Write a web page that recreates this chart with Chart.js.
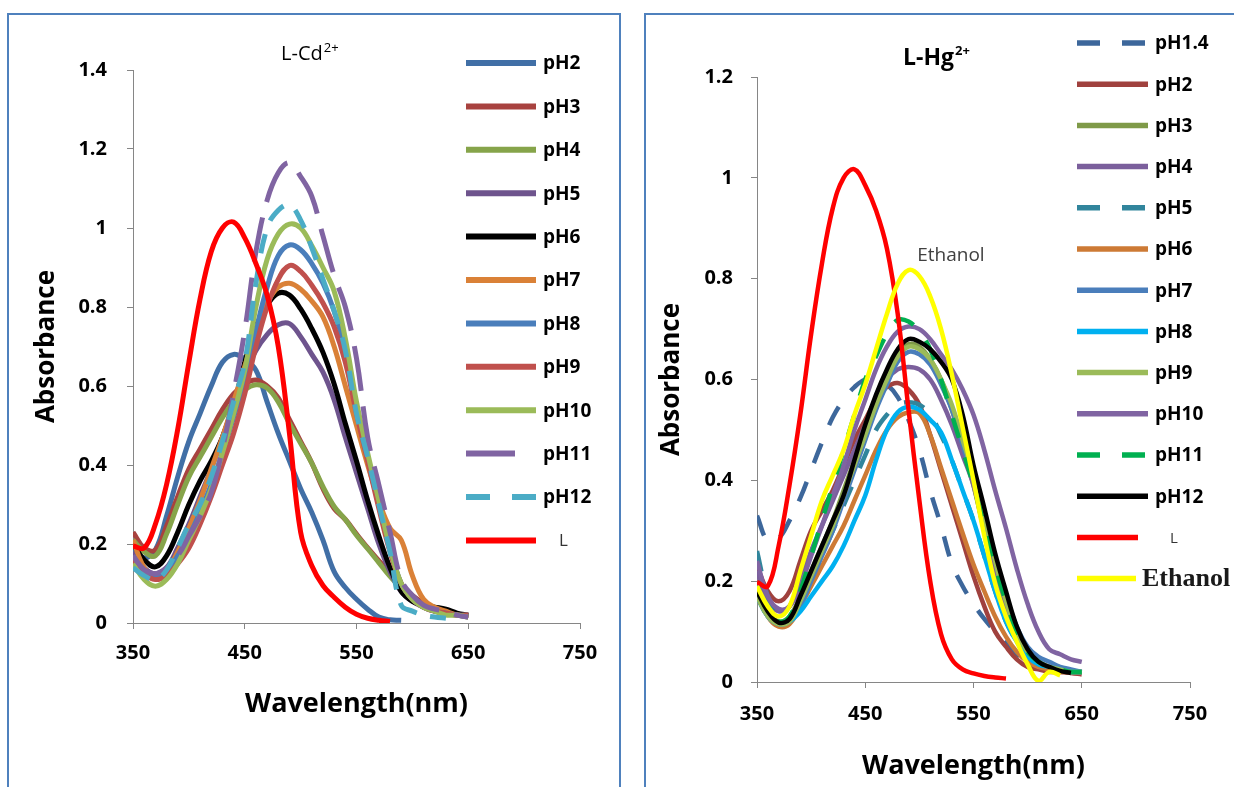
<!DOCTYPE html>
<html>
<head>
<meta charset="utf-8">
<script src="https://cdn.jsdelivr.net/npm/chart.js@4.4.0/dist/chart.umd.min.js"></script>
<style>
  html, body { margin: 0; padding: 0; background: #fff; }
  body { position: relative; width: 1234px; height: 787px; overflow: hidden; }
  .panel { position: absolute; border: 2px solid #4f81bd; box-sizing: border-box; }
  #cdPanel { left: 7px; top: 13px; width: 614px; height: 820px; }
  #hgPanel { left: 644px; top: 13px; width: 640px; height: 820px; }
  canvas { position: absolute; top: 0; }
  #cdChart { left: 0; }
  #hgChart { left: 630px; }
</style>
</head>
<body>
<div class="panel" id="cdPanel"></div>
<div class="panel" id="hgPanel"></div>
<canvas id="cdChart" width="630" height="787"></canvas>
<canvas id="hgChart" width="604" height="787"></canvas>
<script>
// wavelength grid (nm) shared by every spectrum
const wavelengths = [350,360,370,380,390,400,410,420,430,440,450,460,470,480,490,500,510,520,530,540,550,560,570,580,590,600,610,620,630,640,650];
const xTicks = [350, 450, 550, 650, 750];

// ---- L-Cd2+ absorbance ----
const cdLabels = ['pH2','pH3','pH4','pH5','pH6','pH7','pH8','pH9','pH10','pH11','pH12','L'];
const cdPH2  = [0.19,0.165,0.185,0.27,0.37,0.46,0.53,0.6,0.66,0.68,0.668,0.64,0.56,0.48,0.41,0.34,0.28,0.21,0.13,0.09,0.06,0.035,0.015,0.008,0.007,null,null,null,null,null,null];
const cdPH3  = [0.23,0.19,0.185,0.245,0.32,0.39,0.44,0.49,0.54,0.58,0.605,0.615,0.6,0.57,0.515,0.46,0.405,0.34,0.29,0.262,0.225,0.19,0.158,0.127,0.095,0.07,0.05,0.035,0.025,0.02,0.018];
const cdPH4  = [0.21,0.18,0.17,0.225,0.3,0.37,0.42,0.47,0.52,0.56,0.59,0.603,0.595,0.56,0.505,0.455,0.405,0.345,0.295,0.262,0.222,0.188,0.153,0.118,0.088,0.063,0.044,0.03,0.024,0.02,0.015];
const cdPH5  = [0.18,0.14,0.125,0.14,0.19,0.25,0.32,0.39,0.47,0.55,0.63,0.69,0.73,0.755,0.758,0.725,0.68,0.635,0.565,0.47,0.38,0.29,0.2,0.13,0.08,0.055,0.04,0.03,0.025,0.02,0.015];
const cdPH6  = [0.2,0.16,0.142,0.17,0.23,0.3,0.36,0.41,0.47,0.55,0.66,0.75,0.805,0.835,0.83,0.795,0.745,0.685,0.605,0.505,0.41,0.31,0.22,0.14,0.08,0.055,0.045,0.04,0.035,0.025,0.02];
const cdPH7  = [0.21,0.14,0.115,0.13,0.18,0.24,0.31,0.39,0.47,0.56,0.65,0.74,0.81,0.85,0.86,0.845,0.815,0.775,0.7,0.6,0.5,0.4,0.31,0.24,0.21,0.12,0.06,0.04,0.03,0.02,0.02];
const cdPH8  = [0.17,0.13,0.115,0.13,0.17,0.22,0.28,0.35,0.43,0.52,0.62,0.74,0.85,0.93,0.957,0.945,0.91,0.86,0.79,0.69,0.55,0.42,0.3,0.19,0.1,0.06,0.04,0.03,0.025,0.02,0.02];
const cdPH9  = [0.16,0.125,0.11,0.12,0.15,0.19,0.25,0.32,0.4,0.48,0.58,0.7,0.8,0.87,0.905,0.89,0.855,0.81,0.75,0.66,0.53,0.41,0.29,0.18,0.1,0.06,0.04,0.03,0.025,0.02,0.02];
const cdPH10 = [0.15,0.11,0.093,0.11,0.15,0.21,0.27,0.34,0.43,0.53,0.64,0.8,0.92,0.985,1.01,1.0,0.955,0.9,0.84,0.72,0.56,0.43,0.31,0.19,0.1,0.06,0.04,0.03,0.02,0.02,0.015];
const cdPH11 = [0.17,0.135,0.125,0.14,0.17,0.22,0.27,0.33,0.44,0.58,0.74,0.94,1.07,1.14,1.165,1.13,1.08,0.98,0.88,0.8,0.67,0.47,0.35,0.23,0.11,0.07,0.045,0.035,0.03,0.02,0.015];
const cdPH12 = [0.14,0.12,0.11,0.134,0.19,0.25,0.3,0.37,0.46,0.56,0.66,0.86,1.0,1.045,1.058,1.02,0.95,0.87,0.79,0.69,0.53,0.42,0.3,0.18,0.045,0.03,0.02,0.015,0.012,null,null];
const cdL    = [0.195,0.19,0.25,0.35,0.49,0.66,0.82,0.94,1.0,1.015,0.975,0.91,0.83,0.7,0.48,0.23,0.145,0.095,0.065,0.04,0.022,0.012,0.007,0.004,null,null,null,null,null,null,null];
const cdSeries = [cdPH2, cdPH3, cdPH4, cdPH5, cdPH6, cdPH7, cdPH8, cdPH9, cdPH10, cdPH11, cdPH12, cdL];
const cdColors = ['#416fa6','#a8423f','#86a44a','#6e548d','#000000','#da8137','#4a7ebb','#c0504d','#9bbb59','#8064a2','#4bacc6','#ff0000'];

// ---- L-Hg2+ absorbance ----
const hgLabels = ['pH1.4','pH2','pH3','pH4','pH5','pH6','pH7','pH8','pH9','pH10','pH11','pH12','L','Ethanol'];
const hgPH14 = [0.33,0.28,0.285,0.32,0.365,0.42,0.475,0.525,0.56,0.585,0.6,0.6,0.59,0.565,0.52,0.46,0.38,0.31,0.235,0.19,0.155,0.125,0.1,0.076,0.056,0.04,0.03,0.02,null,null,null];
const hgPH2  = [0.23,0.18,0.16,0.18,0.24,0.3,0.34,0.38,0.43,0.48,0.52,0.56,0.585,0.593,0.58,0.55,0.49,0.42,0.35,0.28,0.21,0.15,0.1,0.07,0.045,0.03,0.025,0.02,0.02,0.018,0.015];
const hgPH3  = [0.18,0.14,0.12,0.13,0.17,0.22,0.27,0.32,0.38,0.44,0.5,0.56,0.61,0.65,0.67,0.665,0.64,0.6,0.54,0.47,0.39,0.3,0.22,0.15,0.09,0.055,0.035,0.028,0.022,0.02,0.02];
const hgPH4  = [0.22,0.16,0.14,0.15,0.2,0.26,0.31,0.36,0.41,0.46,0.51,0.56,0.6,0.62,0.625,0.62,0.6,0.56,0.51,0.45,0.39,0.3,0.22,0.15,0.1,0.06,0.04,0.03,0.025,0.02,0.02];
const hgPH5  = [0.26,0.17,0.13,0.13,0.16,0.2,0.25,0.3,0.35,0.4,0.45,0.5,0.53,0.55,0.555,0.55,0.53,0.49,0.44,0.38,0.32,0.25,0.18,0.12,0.08,0.05,0.035,0.03,0.025,0.02,0.02];
const hgPH6  = [0.18,0.13,0.11,0.115,0.15,0.19,0.23,0.27,0.31,0.36,0.41,0.46,0.5,0.525,0.535,0.533,0.49,0.425,0.36,0.295,0.233,0.18,0.13,0.09,0.06,0.04,0.03,0.025,0.02,0.02,0.02];
const hgPH7  = [0.17,0.13,0.115,0.12,0.15,0.2,0.25,0.3,0.36,0.42,0.48,0.54,0.59,0.635,0.655,0.65,0.63,0.59,0.54,0.47,0.4,0.32,0.24,0.17,0.11,0.07,0.05,0.04,0.03,0.025,0.02];
const hgPH8  = [0.17,0.13,0.115,0.12,0.14,0.17,0.2,0.23,0.27,0.32,0.37,0.44,0.5,0.535,0.546,0.54,0.52,0.495,0.44,0.38,0.32,0.25,0.18,0.12,0.08,0.05,0.035,0.03,0.025,0.02,0.02];
const hgPH9  = [0.17,0.13,0.115,0.12,0.16,0.21,0.26,0.31,0.37,0.43,0.49,0.55,0.6,0.645,0.665,0.66,0.64,0.6,0.55,0.48,0.41,0.33,0.24,0.16,0.1,0.06,0.04,0.03,0.025,0.02,0.02];
const hgPH10 = [0.24,0.17,0.145,0.15,0.19,0.25,0.31,0.37,0.43,0.5,0.56,0.62,0.665,0.695,0.705,0.7,0.68,0.65,0.62,0.58,0.53,0.46,0.38,0.305,0.225,0.155,0.1,0.065,0.055,0.045,0.04];
const hgPH11 = [0.19,0.14,0.12,0.13,0.18,0.25,0.32,0.39,0.46,0.53,0.6,0.646,0.69,0.718,0.715,0.695,0.66,0.6,0.53,0.46,0.39,0.31,0.23,0.16,0.1,0.06,0.04,0.03,0.025,0.02,0.02];
const hgPH12 = [0.18,0.14,0.118,0.125,0.17,0.22,0.27,0.32,0.37,0.44,0.51,0.57,0.62,0.66,0.68,0.675,0.66,0.635,0.6,0.53,0.43,0.345,0.255,0.18,0.11,0.065,0.04,0.03,0.022,0.018,null];
const hgL    = [0.198,0.19,0.27,0.39,0.53,0.69,0.83,0.94,1.0,1.017,0.985,0.935,0.86,0.73,0.54,0.36,0.2,0.095,0.045,0.025,0.017,0.012,0.009,0.007,null,null,null,null,null,null,null];
const hgEthanol = [0.19,0.15,0.13,0.15,0.22,0.29,0.36,0.41,0.46,0.53,0.59,0.66,0.73,0.79,0.817,0.805,0.765,0.7,0.61,0.505,0.4,0.29,0.195,0.13,0.08,0.035,0.002,0.02,0.013,null,null];
const hgSeries = [hgPH14, hgPH2, hgPH3, hgPH4, hgPH5, hgPH6, hgPH7, hgPH8, hgPH9, hgPH10, hgPH11, hgPH12, hgL, hgEthanol];
const hgColors = ['#3d679b','#a0413e','#7f9a48','#7b5f9c','#31859c','#cd7a35','#4a7ebb','#00b0f0','#9bbb59','#8064a2','#00b050','#000000','#ff0000','#ffff00'];

const FONT = '"Open Sans", Lato, sans-serif';

function points(values) {
  const pts = [];
  values.forEach((v, i) => { if (v !== null) pts.push({ x: wavelengths[i], y: v }); });
  return pts;
}

function buildDatasets(labels, series, colors, width, extra) {
  return labels.map((label, i) => Object.assign({
    label,
    data: points(series[i]),
    borderColor: colors[i],
    backgroundColor: colors[i],
    borderWidth: width,
    borderJoinStyle: 'round',
    pointRadius: 0,
    fill: false,
    tension: 0.4,
    order: labels.length - i   // later series sit on top
  }, extra[label] || {}));
}

// legend, panel title and free text drawn on top of the plot
const chartDecor = {
  id: 'chartDecor',
  afterDraw(chart, args, o) {
    const ctx = chart.ctx;
    ctx.save();
    chart.data.datasets.forEach((ds, i) => {
      const y = o.legendTop + i * o.legendStep;
      ctx.beginPath();
      ctx.strokeStyle = ds.borderColor;
      ctx.lineWidth = o.legendWidth;
      ctx.lineCap = 'butt';
      ctx.setLineDash(ds.legendDash || []);
      ctx.moveTo(o.legendX, y);
      ctx.lineTo(o.legendX + (ds.legendLen || o.legendLen), y);
      ctx.stroke();
      ctx.setLineDash([]);
      ctx.font = ds.legendFont || ('bold 19px ' + FONT);
      ctx.fillStyle = ds.legendColor || '#000';
      ctx.textBaseline = 'middle';
      ctx.textAlign = 'left';
      ctx.fillText(ds.label, ds.legendTextX || o.legendTextX, y + 1);
    });
    // title with superscript charge
    const t = o.title;
    ctx.fillStyle = '#000';
    ctx.textBaseline = 'alphabetic';
    ctx.font = t.font;
    ctx.fillText(t.text, t.x, t.y);
    const w = ctx.measureText(t.text).width;
    ctx.font = t.supFont;
    ctx.fillText(t.sup, t.x + w + 1, t.y - t.supRise);
    // free text note placed in data units
    if (o.note) {
      const xs = chart.scales.x, ys = chart.scales.y;
      ctx.font = o.note.font;
      ctx.fillStyle = '#404040';
      ctx.textBaseline = 'middle';
      ctx.fillText(o.note.text, xs.getPixelForValue(o.note.x), ys.getPixelForValue(o.note.y));
    }
    ctx.restore();
  }
};

function axisOptions(cfg) {
  const grid = { display: true, drawOnChartArea: false, drawTicks: true, tickLength: 6, color: '#868686', lineWidth: 1 };
  const border = { display: true, color: '#868686', width: 1 };
  return {
    x: {
      type: 'linear', min: 350, max: 750,
      afterBuildTicks: s => { s.ticks = xTicks.map(v => ({ value: v })); },
      afterFit: s => { s.height = cfg.xHeight; },
      grid, border,
      ticks: { color: '#000', font: { family: FONT, size: 20, weight: 'bold' }, padding: cfg.xTickPad, maxRotation: 0 },
      title: { display: true, text: 'Wavelength(nm)', color: '#000', font: { family: FONT, size: 27, weight: 'bold' }, padding: { top: 0, bottom: cfg.xTitlePad } }
    },
    y: {
      type: 'linear', min: 0, max: cfg.yMax,
      ticks: { stepSize: 0.2, color: '#000', font: { family: FONT, size: 20, weight: 'bold' }, padding: cfg.yTickPad,
               callback: v => String(Math.round(v * 10) / 10) },
      afterFit: s => { s.width = cfg.yWidth; },
      grid, border,
      title: { display: true, text: 'Absorbance', color: '#000', font: { family: FONT, size: 26, weight: 'bold' }, padding: { top: cfg.yTitlePad, bottom: 0 } }
    }
  };
}

new Chart(document.getElementById('cdChart'), {
  type: 'line',
  data: {
    datasets: buildDatasets(cdLabels, cdSeries, cdColors, 5, {
      'pH11': { borderDash: [45, 16], legendDash: [49, 40] },
      'pH12': { borderDash: [20, 14], legendDash: [24, 22] },
      'L': { legendFont: '17px ' + FONT, legendColor: '#333', legendTextX: 559 }
    })
  },
  options: {
    responsive: false,
    animation: false,
    layout: { padding: { left: 0, top: 70, right: 50, bottom: 0 } },
    scales: axisOptions({ yMax: 1.4, xHeight: 164, yWidth: 133, xTickPad: 12, yTickPad: 20, xTitlePad: 66, yTitlePad: 31 }),
    plugins: {
      legend: { display: false },
      tooltip: { enabled: false },
      chartDecor: {
        legendX: 466, legendLen: 70, legendTextX: 543, legendTop: 63, legendStep: 43.4, legendWidth: 6,
        title: { text: 'L-Cd', sup: '2+', x: 281, y: 60, font: '20px ' + FONT, supFont: '13px ' + FONT, supRise: 8 }
      }
    }
  },
  plugins: [chartDecor]
});

new Chart(document.getElementById('hgChart'), {
  type: 'line',
  data: {
    datasets: buildDatasets(hgLabels, hgSeries, hgColors, 4.5, {
      'pH1.4': { borderDash: [21, 20], legendDash: [23, 22] },
      'pH5': { borderDash: [21, 20], legendDash: [23, 22] },
      'pH11': { borderDash: [21, 20], legendDash: [23, 22] },
      'L': { legendLen: 61, legendFont: '15px ' + FONT, legendColor: '#333', legendTextX: 540 },
      'Ethanol': { legendLen: 59, legendFont: 'bold 26px "Liberation Serif", serif', legendColor: '#1a1a1a', legendTextX: 512 }
    })
  },
  options: {
    responsive: false,
    animation: false,
    layout: { padding: { left: 0, top: 77, right: 44, bottom: 0 } },
    scales: axisOptions({ yMax: 1.2, xHeight: 105, yWidth: 127, xTickPad: 14, yTickPad: 18, xTitlePad: 4, yTitlePad: 26 }),
    plugins: {
      legend: { display: false },
      tooltip: { enabled: false },
      chartDecor: {
        legendX: 447, legendLen: 71, legendTextX: 525, legendTop: 43, legendStep: 41.2, legendWidth: 5.5,
        title: { text: 'L-Hg', sup: '2+', x: 273, y: 65, font: 'bold 23px ' + FONT, supFont: 'bold 13px ' + FONT, supRise: 10 },
        note: { text: 'Ethanol', x: 498, y: 0.846, font: '19px ' + FONT }
      }
    }
  },
  plugins: [chartDecor]
});
</script>
</body>
</html>
